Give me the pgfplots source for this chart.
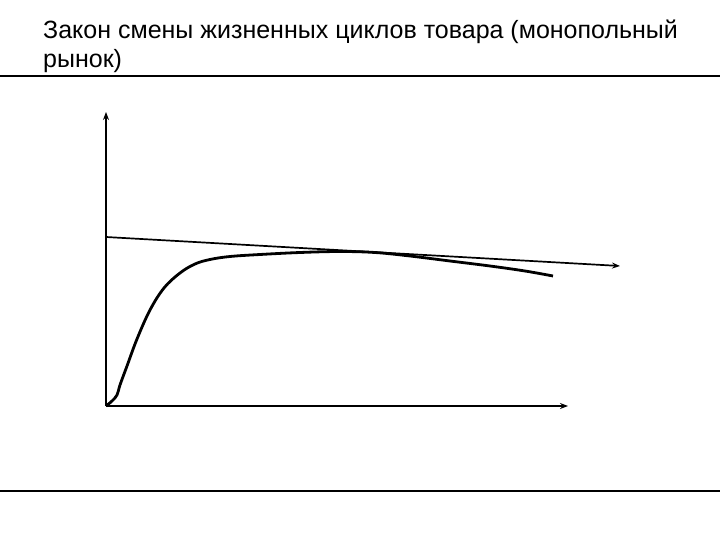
\documentclass[border=0pt]{standalone}
\usepackage{fontspec}
\setmainfont{Liberation Sans}
\usepackage{pgfplots}
\pgfplotsset{compat=1.18}
\usetikzlibrary{arrows.meta}
\begin{document}
\begin{tikzpicture}
\path[use as bounding box] (0,0) rectangle (720pt,540pt);
\begin{axis}[at={(0,0)}, anchor=south west, width=720pt, height=540pt, scale only axis,
  hide axis, clip=false, xmin=0, xmax=720, ymin=0, ymax=540, y dir=reverse]
% separator lines
\addplot[black, line width=2pt] coordinates {(0,76.5) (720,76.5)};
\addplot[black, line width=2pt] coordinates {(0,491) (720,491)};
% axes
\addplot[black, line width=1.7pt, -{Stealth[length=8pt,width=6pt]}] coordinates {(106,406) (106,112)};
\addplot[black, line width=1.7pt, -{Stealth[length=8pt,width=6pt]}] coordinates {(106,406) (568,406)};
% straight trend line
\addplot[black, line width=1.7pt, -{Stealth[length=8pt,width=6pt]}] coordinates {(106,237) (620,266)};
% life cycle curve
\addplot[black, line width=2.8pt, smooth, tension=0.6] coordinates {
(106,406) (112,401) (117,395) (120,385) (127,366) (137,339) (150,310) (164,288)
(180,273) (195,264) (210,259.5) (230,256.5) (260,254.5) (300,252.5) (340,251.5) (375,252.5)
(410,256) (450,261) (490,266) (525,271) (553,276)};
\node[anchor=base west, inner sep=0pt, font=\fontsize{25}{29}\selectfont] at (axis cs:43,39)
 {Закон смены жизненных циклов товара (монопольный};
\node[anchor=base west, inner sep=0pt, font=\fontsize{25}{29}\selectfont] at (axis cs:43,68) {рынок)};
\end{axis}
\end{tikzpicture}
\end{document}
